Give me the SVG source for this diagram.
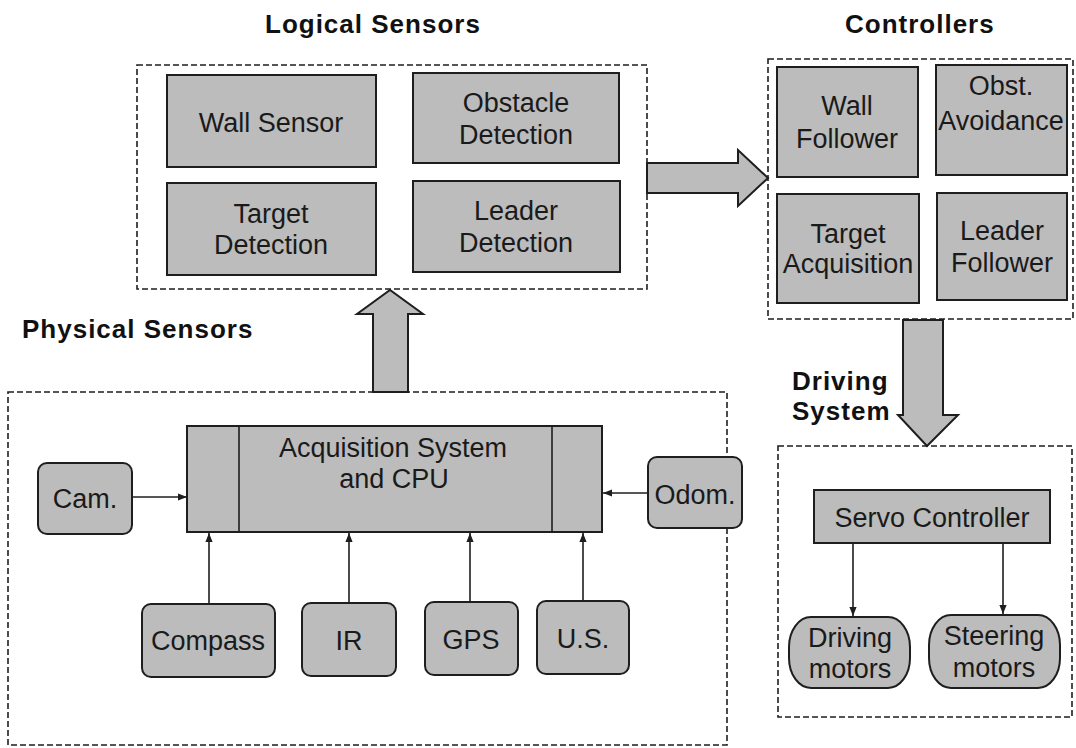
<svg xmlns="http://www.w3.org/2000/svg" width="1076" height="748" viewBox="0 0 1076 748">
<defs>
<style>
.box{fill:#bcbcbc;stroke:#1e1e1e;stroke-width:2}
.grp{fill:none;stroke:#1e1e1e;stroke-width:1.6;stroke-dasharray:6 3}
.t{font-family:"Liberation Sans",Arial,sans-serif;font-size:27px;fill:#1a1a1a;text-anchor:middle}
.h{font-family:"Liberation Sans",Arial,sans-serif;font-size:26px;font-weight:bold;fill:#111;letter-spacing:1px}
.big{fill:#bcbcbc;stroke:#1e1e1e;stroke-width:2;stroke-linejoin:miter}
.ln{stroke:#1e1e1e;stroke-width:1.6;fill:none}
</style>
<marker id="ah" viewBox="0 0 10 10" refX="10" refY="5" markerWidth="9" markerHeight="9" markerUnits="userSpaceOnUse" orient="auto">
<path d="M0,1 L10,5 L0,9 Z" fill="#1e1e1e"/>
</marker>
</defs>
<rect width="1076" height="748" fill="#ffffff"/>

<g id="labels">
<text class="h" x="265" y="33">Logical Sensors</text>
<text class="h" x="845" y="33">Controllers</text>
<text class="h" x="22" y="338">Physical Sensors</text>
<text class="h" x="792" y="390">Driving</text>
<text class="h" x="792" y="420">System</text>
</g>

<g id="groups">
<rect id="logical-sensors" class="grp" x="137" y="65" width="510" height="224"/>
<rect id="controllers" class="grp" x="768" y="59" width="305" height="260"/>
<rect id="physical-sensors" class="grp" x="8" y="392" width="719" height="353"/>
<rect id="driving-system" class="grp" x="778" y="446" width="294" height="271"/>
</g>

<g id="connectors">
<polygon class="big" points="373,392 373,314 357,314 390,290 423,314 408,314 408,392"/>
<polygon class="big" points="647,163 738,163 738,150 768,178 738,206 738,193 647,193"/>
<polygon class="big" points="903,320 943,320 943,415 958,415 927,446 898,415 903,415"/>
<line class="ln" x1="132" y1="497" x2="187" y2="497" marker-end="url(#ah)"/>
<line class="ln" x1="648" y1="493" x2="603" y2="493" marker-end="url(#ah)"/>
<line class="ln" x1="209" y1="604" x2="209" y2="533" marker-end="url(#ah)"/>
<line class="ln" x1="349" y1="603" x2="349" y2="533" marker-end="url(#ah)"/>
<line class="ln" x1="470" y1="602" x2="470" y2="533" marker-end="url(#ah)"/>
<line class="ln" x1="583" y1="601" x2="583" y2="533" marker-end="url(#ah)"/>
<line class="ln" x1="853" y1="543" x2="853" y2="616" marker-end="url(#ah)"/>
<line class="ln" x1="1003" y1="543" x2="1003" y2="614" marker-end="url(#ah)"/>
</g>

<g id="wall-sensor"><rect class="box" x="167" y="75" width="209" height="92"/><text class="t" x="271" y="132">Wall Sensor</text></g>
<g id="obstacle-detection"><rect class="box" x="413" y="73" width="206" height="90"/><text class="t" x="516" y="112">Obstacle</text><text class="t" x="516" y="144">Detection</text></g>
<g id="target-detection"><rect class="box" x="167" y="183" width="209" height="92"/><text class="t" x="271" y="223">Target</text><text class="t" x="271" y="254">Detection</text></g>
<g id="leader-detection"><rect class="box" x="413" y="181" width="207" height="91"/><text class="t" x="516" y="220">Leader</text><text class="t" x="516" y="252">Detection</text></g>

<g id="wall-follower"><rect class="box" x="777" y="67" width="141" height="110"/><text class="t" x="847" y="115">Wall</text><text class="t" x="847" y="148">Follower</text></g>
<g id="obst-avoidance"><rect class="box" x="936" y="65" width="131" height="110"/><text class="t" x="1001" y="95">Obst.</text><text class="t" x="1001" y="130">Avoidance</text></g>
<g id="target-acquisition"><rect class="box" x="777" y="194" width="142" height="109"/><text class="t" x="848" y="243">Target</text><text class="t" x="848" y="273">Acquisition</text></g>
<g id="leader-follower"><rect class="box" x="937" y="193" width="130" height="107"/><text class="t" x="1002" y="240">Leader</text><text class="t" x="1002" y="272">Follower</text></g>

<g id="acquisition-cpu">
<rect class="box" x="187" y="426" width="415" height="106"/>
<line class="ln" x1="239" y1="426" x2="239" y2="532" stroke-width="2"/>
<line class="ln" x1="552" y1="426" x2="552" y2="532" stroke-width="2"/>
<text class="t" x="393" y="457">Acquisition System</text>
<text class="t" x="394" y="488">and CPU</text>
</g>
<g id="cam"><rect class="box" x="38" y="463" width="94" height="71" rx="9"/><text class="t" x="85" y="508">Cam.</text></g>
<g id="odom"><rect class="box" x="648" y="457" width="94" height="71" rx="9"/><text class="t" x="695" y="504">Odom.</text></g>
<g id="compass"><rect class="box" x="142" y="604" width="133" height="73" rx="9"/><text class="t" x="208" y="650">Compass</text></g>
<g id="ir"><rect class="box" x="302" y="603" width="94" height="73" rx="9"/><text class="t" x="349" y="650">IR</text></g>
<g id="gps"><rect class="box" x="425" y="602" width="93" height="73" rx="9"/><text class="t" x="471" y="649">GPS</text></g>
<g id="us"><rect class="box" x="537" y="601" width="92" height="73" rx="9"/><text class="t" x="583" y="648">U.S.</text></g>

<g id="servo-controller"><rect class="box" x="814" y="490" width="236" height="53"/><text class="t" x="932" y="527">Servo Controller</text></g>
<g id="driving-motors"><rect class="box" x="789" y="617" width="121" height="71" rx="22" ry="30"/><text class="t" x="850" y="647">Driving</text><text class="t" x="850" y="678">motors</text></g>
<g id="steering-motors"><rect class="box" x="929" y="615" width="131" height="73" rx="22" ry="30"/><text class="t" x="994" y="645">Steering</text><text class="t" x="994" y="677">motors</text></g>
</svg>
